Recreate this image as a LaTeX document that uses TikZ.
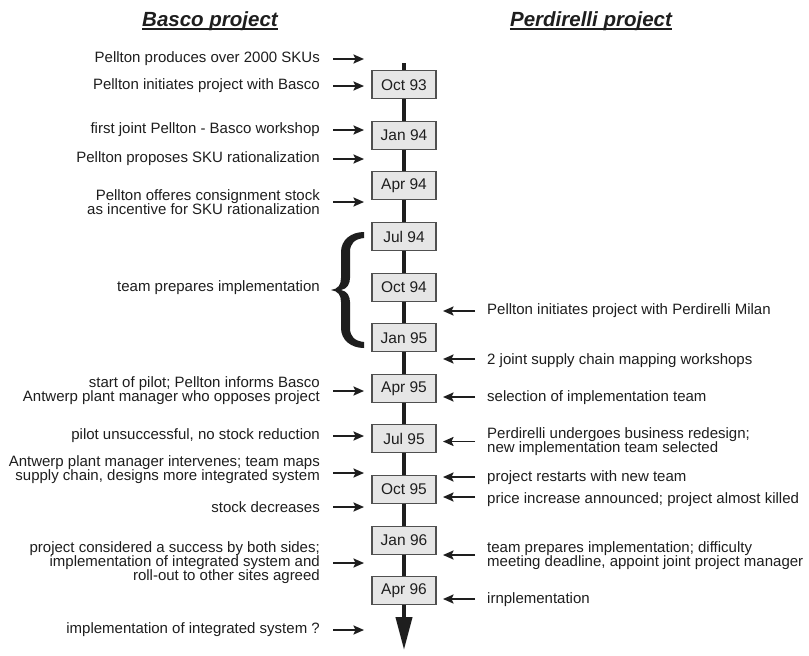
\documentclass[tikz,border=0pt]{standalone}
\usepackage{fontspec}
\setmainfont{Liberation Sans}
\usetikzlibrary{arrows.meta}
\definecolor{ink}{HTML}{1E1E1E}
\definecolor{boxfill}{HTML}{E6E6E6}
\definecolor{boxline}{HTML}{505050}
\begin{document}
\begin{tikzpicture}[x=1pt,y=-1pt,
  every node/.style={text=ink},
  evleft/.style={anchor=east,align=right,inner sep=0pt,font=\fontsize{15}{14}\selectfont},
  evright/.style={anchor=west,align=left,inner sep=0pt,font=\fontsize{15}{14}\selectfont},
  datebox/.style={draw=boxline,fill=boxfill,line width=1.1pt,minimum width=64pt,minimum height=28pt,inner sep=0pt,font=\fontsize{15.5}{16}\selectfont},
  heading/.style={anchor=base,inner sep=0pt,font=\fontsize{20.5}{22}\selectfont\bfseries\itshape},
  tline/.style={draw=ink,line width=4pt},
  evarrow/.style={draw=ink,line width=1.9pt,-{Stealth[length=10.5pt,width=9pt,inset=2pt]}}]
\useasboundingbox[fill=white] (0,0) rectangle (809,656);

% column headings
\node[heading] (hb) at (210,26.7) {Basco project};
\node[heading] (hp) at (591,26.7) {Perdirelli project};
\draw[ink,line width=1.4pt] ([yshift=-2.3pt]hb.base west) -- ([yshift=-2.3pt]hb.base east);
\draw[ink,line width=1.4pt] ([yshift=-2.3pt]hp.base west) -- ([yshift=-2.3pt]hp.base east);

% time line with quarterly date boxes
\coordinate (ttop) at (404,63);
\coordinate (tend) at (404,650);
\node[datebox] (d1)  at (404,84.7)  {Oct 93};
\node[datebox] (d2)  at (404,135.3) {Jan 94};
\node[datebox] (d3)  at (404,185.9) {Apr 94};
\node[datebox] (d4)  at (404,236.5) {Jul 94};
\node[datebox] (d5)  at (404,287.1) {Oct 94};
\node[datebox] (d6)  at (404,337.7) {Jan 95};
\node[datebox] (d7)  at (404,388.3) {Apr 95};
\node[datebox] (d8)  at (404,438.9) {Jul 95};
\node[datebox] (d9)  at (404,489.5) {Oct 95};
\node[datebox] (d10) at (404,540.1) {Jan 96};
\node[datebox] (d11) at (404,590.7) {Apr 96};
\draw[tline] (ttop) -- (d1.north);
\foreach \a/\b in {d1/d2,d2/d3,d3/d4,d4/d5,d5/d6,d6/d7,d7/d8,d8/d9,d9/d10,d10/d11}
  \draw[tline] (\a.south) -- (\b.north);
\draw[tline,-{Triangle[length=33pt,width=16pt]}] (d11.south) -- (tend);

% Basco events
\node[evleft] (L1)  at (320,59)  {Pellton produces over 2000 SKUs};
\node[evleft] (L2)  at (320,86)  {Pellton initiates project with Basco};
\node[evleft] (L3)  at (320,130) {first joint Pellton - Basco workshop};
\node[evleft] (L4)  at (320,159) {Pellton proposes SKU rationalization};
\node[evleft] (L5)  at (320,202) {Pellton offeres consignment stock\\as incentive for SKU rationalization};
\node[evleft] (L6)  at (320,288) {team prepares implementation};
\node[evleft] (L7)  at (320,391) {start of pilot; Pellton informs Basco\\Antwerp plant manager who opposes project};
\node[evleft] (L8)  at (320,436) {pilot unsuccessful, no stock reduction};
\node[evleft] (L9)  at (320,470) {Antwerp plant manager intervenes; team maps\\supply chain, designs more integrated system};
\node[evleft] (L10) at (320,507) {stock decreases};
\node[evleft] (L11) at (320,563) {project considered a success by both sides;\\implementation of integrated system and\\roll-out to other sites agreed};
\node[evleft] (L12) at (320,630) {implementation of integrated system ?};
\foreach \n/\s in {L1/0,L2/0,L3/0,L4/0,L5/0,L7/0,L8/0,L9/-3,L10/0,L11/0,L12/0}
  \draw[evarrow] ([xshift=13pt,yshift=\s pt]\n.east) -- ++(31,0);

% brace spanning Jul 94 to Jan 95
\fill[ink] (364,232) .. controls (351,232) and (341,240) .. (341,252)
  -- (341,278) .. controls (341,285) and (338,289) .. (331,290)
  .. controls (338,291) and (341,295) .. (341,302)
  -- (341,328) .. controls (341,340) and (351,348) .. (364,348)
  -- (364,342) .. controls (355,341) and (350,337) .. (350,328)
  -- (350,302) .. controls (350,296) and (347,291) .. (341,290)
  .. controls (347,289) and (350,284) .. (350,278)
  -- (350,252) .. controls (350,243) and (355,239) .. (364,238) -- cycle;

% Perdirelli events
\node[evright] (R1) at (487,311)   {Pellton initiates project with Perdirelli Milan};
\node[evright] (R2) at (487,361)   {2 joint supply chain mapping workshops};
\node[evright] (R3) at (487,398)   {selection of implementation team};
\node[evright] (R4) at (487,441.5) {Perdirelli undergoes business redesign;\\new implementation team selected};
\node[evright] (R5) at (487,478)   {project restarts with new team};
\node[evright] (R6) at (487,500)   {price increase announced; project almost killed};
\node[evright] (R7) at (487,556)   {team prepares implementation; difficulty\\meeting deadline, appoint joint project manager};
\node[evright] (R8) at (487,600)   {irnplementation};
\foreach \n/\s in {R1/0,R2/2,R3/1,R4/0,R5/1,R6/3,R7/1,R8/1}
  \draw[evarrow] ([xshift=-12pt,yshift=\s pt]\n.west) -- ++(-32,0);
\end{tikzpicture}
\end{document}
